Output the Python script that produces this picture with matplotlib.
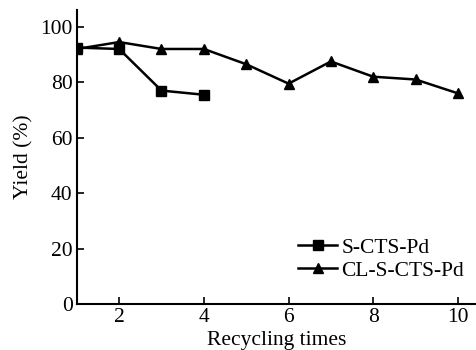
import matplotlib
matplotlib.use("Agg")
import matplotlib.pyplot as plt

# data
cycles_s = [1, 2, 3, 4]
yield_s = [92.5, 92, 77, 75.5]
cycles_cl = [1, 2, 3, 4, 5, 6, 7, 8, 9, 10]
yield_cl = [92, 94.5, 92, 92, 86.5, 79.5, 87.5, 82, 81, 76]
x_ticks = [2, 4, 6, 8, 10]
y_ticks = [0, 20, 40, 60, 80, 100]

plt.rcParams["font.family"] = ["Liberation Serif", "DejaVu Serif"]

fig = plt.figure(figsize=(4.77, 3.5), dpi=100)
ax = fig.add_axes([0.161, 0.131, 0.839, 0.84])

ax.plot(cycles_s, yield_s, color="black", lw=1.8, marker="s", ms=7,
        label="S-CTS-Pd")
ax.plot(cycles_cl, yield_cl, color="black", lw=1.8, marker="^", ms=7.5,
        label="CL-S-CTS-Pd")

ax.set_xlim(1, 10.45)
ax.set_ylim(0, 106)
ax.set_xticks(x_ticks)
ax.set_yticks(y_ticks)
ax.tick_params(direction="in", length=5, width=1.2, labelsize=15.5, pad=3)
ax.spines["top"].set_visible(False)
ax.spines["right"].set_visible(False)
ax.spines["left"].set_linewidth(1.5)
ax.spines["bottom"].set_linewidth(1.5)

ax.set_xlabel("Recycling times", fontsize=15.5, labelpad=3)
ax.set_ylabel("Yield (%)", fontsize=15.5, labelpad=5)

ax.legend(loc="lower right", bbox_to_anchor=(1.0, 0.035), frameon=False,
          fontsize=15.5, handlelength=1.8, handletextpad=0.2,
          labelspacing=0.15, borderaxespad=0.2)

fig.savefig("out.png", dpi=100)
